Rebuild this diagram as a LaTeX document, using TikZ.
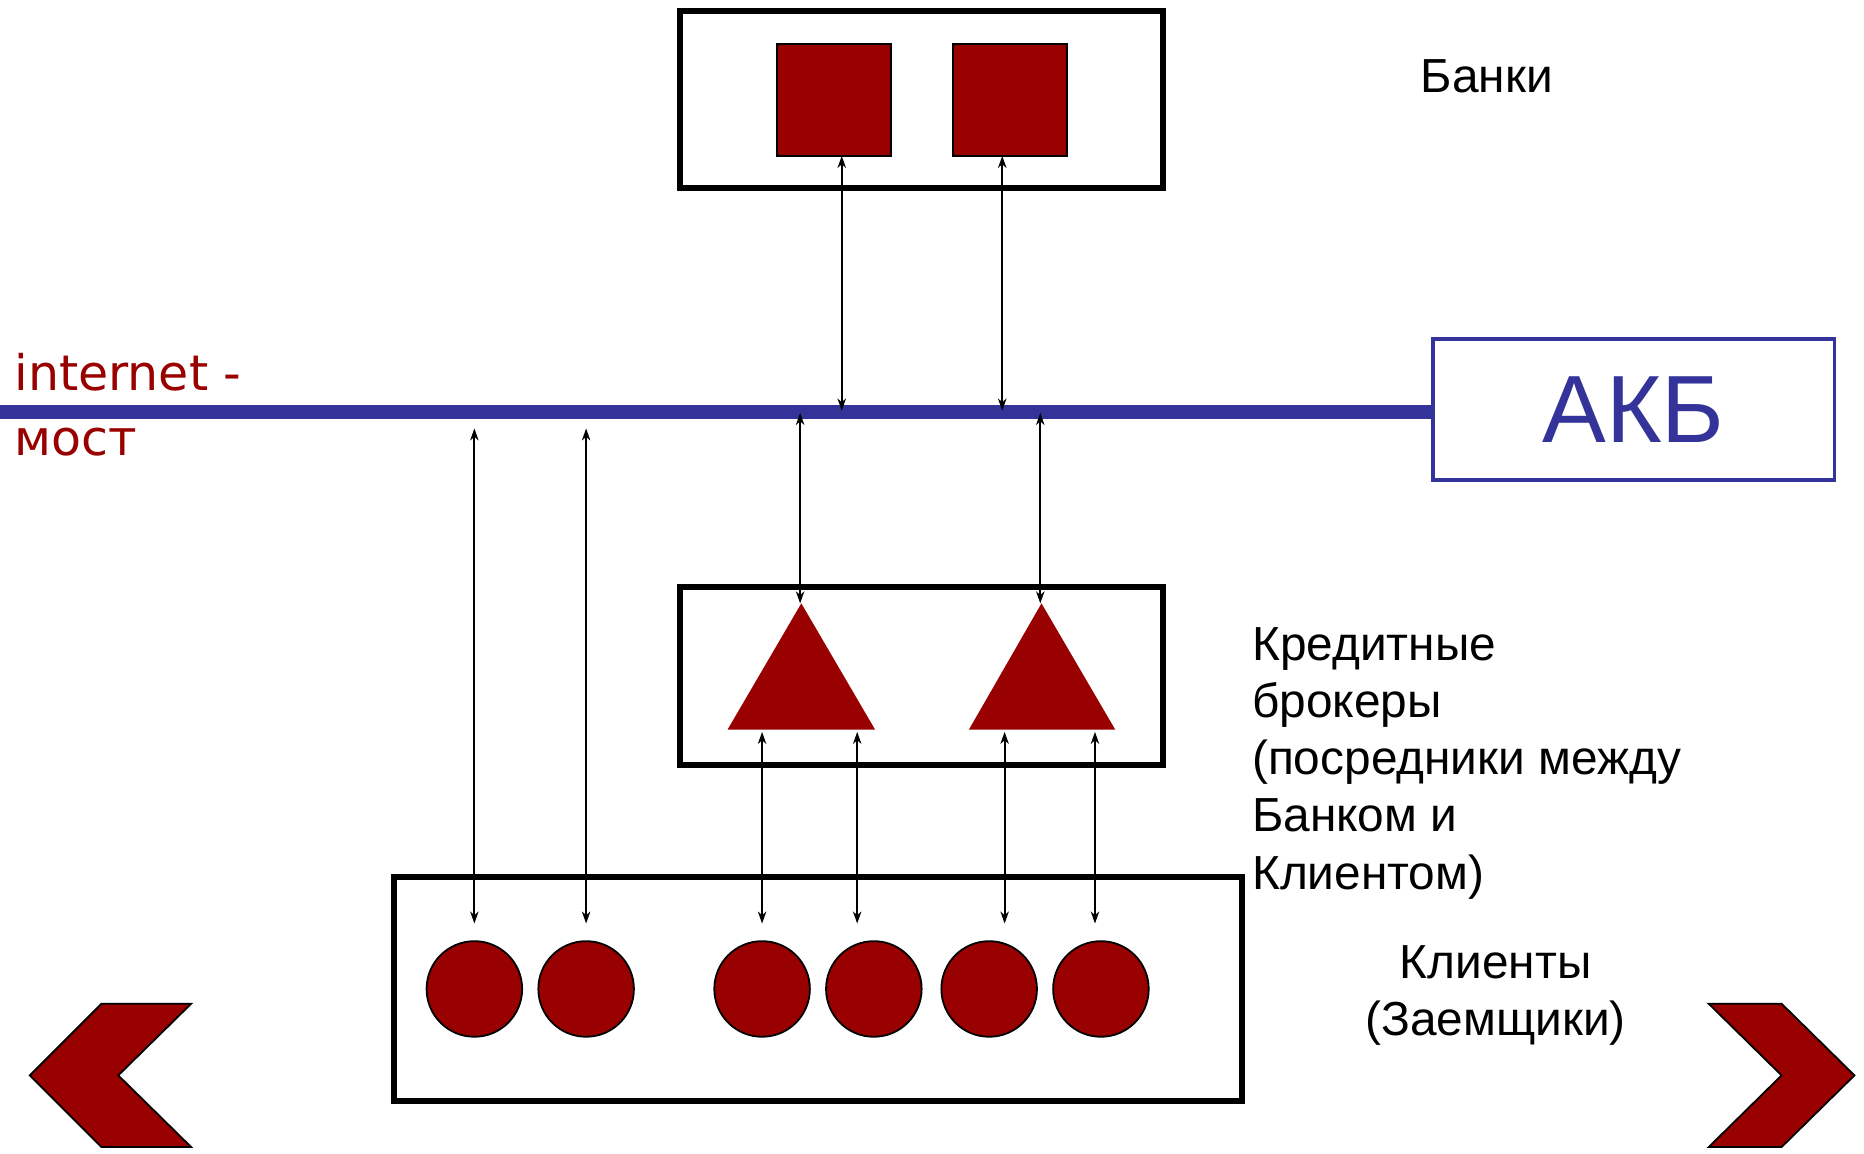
\documentclass[tikz,border=0pt]{standalone}
\usepackage{fontspec}
\setmainfont{Liberation Sans}
\newfontfamily\dvs{DejaVu Sans}
\usetikzlibrary{arrows.meta}
\definecolor{dred}{HTML}{990000}
\definecolor{dblue}{HTML}{333399}
\begin{document}
\begin{tikzpicture}[x=1pt,y=-1pt,
  frame/.style={draw=black,line width=5pt,inner sep=0pt,fill=none},
  sq/.style={draw=black,line width=1.5pt,fill=dred,minimum width=95pt,minimum height=94pt,inner sep=0pt},
  dot/.style={circle,draw=black,line width=1.5pt,fill=dred,minimum size=80pt,inner sep=0pt},
  conn/.style={line width=1.5pt,{Stealth[length=10pt,width=7pt,inset=3pt]}-{Stealth[length=10pt,width=7pt,inset=3pt]}},
  lbl/.style={inner sep=0pt,font=\fontsize{40}{48}\selectfont},
  chev/.style={fill=dred,draw=black,line width=1.5pt,line join=miter}]
\useasboundingbox (0,0) rectangle (1560,965);
\begin{scope}[x=0.995pt,y=-0.996pt]
% frames
\node[frame,minimum width=404pt,minimum height=148pt] (banks) at (775,83.5) {};
\node[frame,minimum width=404pt,minimum height=149pt] (brokers) at (775,568) {};
\node[frame,minimum width=710pt,minimum height=187pt] (clients) at (688,831) {};
% bank squares
\node[sq] (s1) at (701.5,84) {};
\node[sq] (s2) at (849.5,84) {};
% AKB and internet line
\node[draw=dblue,line width=3pt,minimum width=336pt,minimum height=118pt,inner sep=0pt,
      text=dblue,font=\fontsize{80}{90}\selectfont] (akb) at (1374,344) {АКБ};
\coordinate (lineL) at (0,346);
\draw[dblue,line width=12pt] (lineL) -- (lineL -| akb.west);
\node[anchor=base west,inner sep=0pt,text=dred,font=\dvs\fontsize{41}{48}\selectfont] (inet) at (12,328) {internet -};
\node[anchor=base west,inner sep=0pt,text=dred,font=\dvs\fontsize{41}{48}\selectfont] (most) at (12,383) {мост};
% triangles
\fill[dred] (674,507) coordinate (t1) -- (736,613) -- (612,613) -- cycle;
\fill[dred] (876,507) coordinate (t2) -- (938,613) -- (815,613) -- cycle;
% clients circles
\foreach \i/\x in {1/399,2/493,3/641,4/735,5/832,6/926}{
  \node[dot] (c\i) at (\x,831) {};
}
% arrow endpoints
\coordinate (b1t) at (708,131); \coordinate (b1b) at (708,345);
\coordinate (b2t) at (843,131); \coordinate (b2b) at (843,345);
\coordinate (u1t) at (673,347); \coordinate (u1b) at (673,507);
\coordinate (u2t) at (875,347); \coordinate (u2b) at (875,507);
\coordinate (l1t) at (399,360); \coordinate (l1b) at (399,776);
\coordinate (l2t) at (493,360); \coordinate (l2b) at (493,776);
\coordinate (k1t) at (641,615); \coordinate (k1b) at (641,776);
\coordinate (k2t) at (721,615); \coordinate (k2b) at (721,776);
\coordinate (k3t) at (845,615); \coordinate (k3b) at (845,776);
\coordinate (k4t) at (921,615); \coordinate (k4b) at (921,776);
\foreach \a in {b1,b2,u1,u2,l1,l2,k1,k2,k3,k4}{
  \draw[conn] (\a t) -- (\a b);
}
% labels
\node[lbl,anchor=base west] (lbanks) at (1195,78) {Банки};
\node[lbl,anchor=base west] (br1) at (1053,555) {Кредитные};
\node[lbl,anchor=base west] (br2) at (1053,603) {брокеры};
\node[lbl,anchor=base west] (br3) at (1053,651) {(посредники между};
\node[lbl,anchor=base west] (br4) at (1053,699) {Банком и};
\node[lbl,anchor=base west] (br5) at (1053,747) {Клиентом)};
\node[lbl,anchor=base] (cl1) at (1258,822) {Клиенты};
\node[lbl,anchor=base] (cl2) at (1258,870) {(Заемщики)};
\end{scope}
% chevrons
\draw[chev] (25,900) -- (85,840) -- (160,840) -- (99,900) -- (160,960) -- (85,960) -- cycle;
\draw[chev] (1552,900) -- (1491,840) -- (1430,840) -- (1491,900) -- (1430,960) -- (1491,960) -- cycle;
\end{tikzpicture}
\end{document}
